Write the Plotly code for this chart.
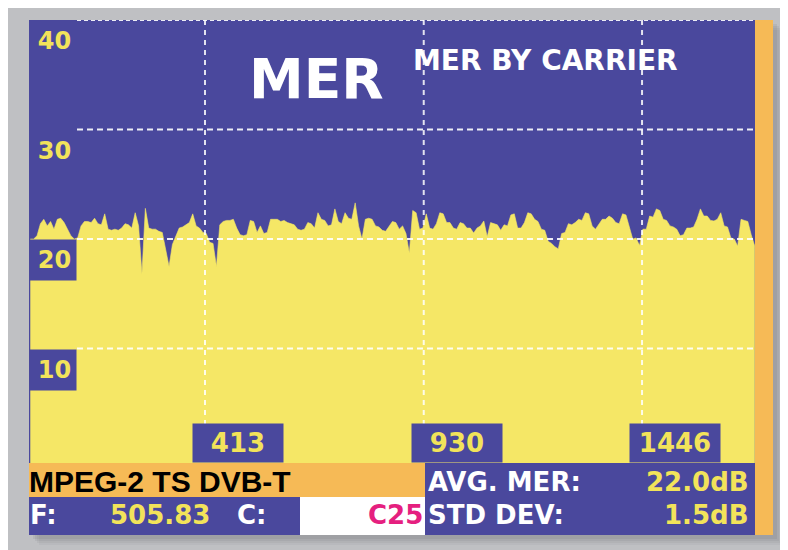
import plotly.graph_objects as go

# ---------------- data ----------------
carriers = list(range(0, 1713, 8))
mer_db = [
    20.0, 20.0, 20.3, 21.4, 21.8, 21.2, 21.6, 20.9, 21.8, 21.9,
    21.5, 20.9, 20.3, 20.0, 20.1, 21.2, 21.6, 21.6, 21.5, 21.9,
    21.4, 21.3, 22.3, 20.9, 20.8, 20.9, 20.8, 21.0, 21.4, 21.3,
    21.0, 22.4, 21.2, 16.8, 22.8, 21.0, 20.9, 20.9, 20.7, 20.6,
    19.0, 17.5, 19.5, 20.3, 21.0, 21.1, 21.3, 21.5, 22.3, 21.2,
    21.0, 20.6, 20.5, 19.7, 19.6, 17.5, 21.3, 21.6, 21.7, 21.7,
    21.8, 21.0, 20.4, 20.3, 20.4, 21.7, 21.6, 20.6, 21.2, 20.5,
    20.6, 21.8, 21.8, 21.8, 21.6, 21.7, 21.5, 21.4, 21.3, 20.9,
    20.8, 20.9, 21.5, 21.4, 21.0, 22.4, 21.8, 21.7, 21.2, 21.3,
    22.75, 21.6, 21.4, 22.4, 21.9, 21.8, 23.3, 21.2, 20.0, 21.8,
    21.9, 21.8, 21.2, 21.1, 20.8, 20.7, 21.2, 21.6, 21.5, 20.9,
    21.2, 20.5, 18.7, 22.6, 22.4, 20.9, 21.0, 22.3, 21.0, 20.9,
    21.4, 22.4, 22.3, 21.5, 21.5, 21.0, 20.9, 21.5, 21.4, 21.0,
    21.0, 20.55, 21.0, 21.2, 21.65, 20.2, 21.5, 21.4, 21.3, 20.8,
    21.3, 21.2, 22.2, 22.3, 21.0, 21.0, 21.5, 22.4, 22.3, 21.8,
    21.6, 20.9, 20.8, 19.8, 19.6, 19.3, 19.1, 20.5, 20.6, 21.4,
    21.3, 21.5, 21.8, 21.7, 22.4, 22.3, 21.2, 20.9, 21.3, 21.8,
    21.8, 22.1, 21.9, 21.5, 21.4, 22.3, 22.2, 21.2, 20.0, 20.1,
    19.4, 20.9, 20.9, 22.1, 22.0, 22.75, 22.6, 21.8, 21.7, 21.2,
    21.1, 20.9, 20.3, 20.4, 21.0, 21.0, 21.1, 21.8, 22.75, 22.1,
    22.1, 21.7, 21.65, 21.8, 22.4, 21.2, 21.1, 20.1, 20.0, 19.35,
    21.8, 21.7, 21.6, 20.4, 19.4,
]
y_ticks = [10, 20, 30, 40]
x_ticks = [413, 930, 1446]
x_tick_labels = ["413", "930", "1446"]

title_main = "MER"
title_sub = "MER BY CARRIER"
stream_label = "MPEG-2 TS DVB-T"
freq_label, freq_value = "F:", "505.83"
chan_label, chan_value = "C:", "C25"
avg_label, avg_value = "AVG. MER:", "22.0dB"
std_label, std_value = "STD DEV:", "1.5dB"

# ---------------- style ----------------
BLUE = "#4a489d"
YELLOW = "#f5e766"
TXT_YELLOW = "#f2e35a"
ORANGE = "#f6ba56"
GRAY = "#bfc0c3"
MAGENTA = "#e5207f"
FONT = "DejaVu Sans"

PAGE_W, PAGE_H = 788, 550
OFF = 8  # page body margin in the browser
W, H = PAGE_W - OFF, PAGE_H - OFF
L, R, T, B = 29, 755, 20, 463  # plot area in page pixels


def px(x):
    return (x - L) / (R - L)


def py(y):
    return (B - y) / (B - T)


fig = go.Figure()

# yellow filled MER trace (closed to below the axis bottom)
fig.add_trace(go.Scatter(
    x=carriers + [carriers[-1], carriers[0]],
    y=mer_db + [-5, -5],
    fill="toself", fillcolor=YELLOW, mode="lines",
    line=dict(width=0.6, color=YELLOW), hoverinfo="skip", showlegend=False,
))

shapes = []


def rect(x0, y0, x1, y1, color, layer="below"):
    shapes.append(dict(type="rect", xref="paper", yref="paper",
                       x0=px(x0), x1=px(x1), y0=py(y1), y1=py(y0),
                       fillcolor=color, line=dict(width=0), layer=layer))


# background panel
rect(5, 5, 800, 560, GRAY)
# soft shadow
for k, a in [(10, 0.05), (8, 0.06), (6, 0.07), (4, 0.08)]:
    rect(L + k, T + k, 773 + k, 535 + k, f"rgba(60,60,70,{a})")
# screen
rect(L, T, R, 535, BLUE)
rect(R, T, 773, 535, ORANGE)
rect(L, 463, 425, 497, ORANGE)
rect(300, 497, 425, 535, "white")

# grid lines above trace
for t in y_ticks:
    shapes.append(dict(type="line", xref="paper", yref="y",
                       x0=px(77), x1=1, y0=t, y1=t, layer="above",
                       line=dict(color="rgba(255,255,255,0.9)", width=2,
                                 dash="6px,4px" if t != 40 else "4px,3px")))
for xt in x_ticks:
    shapes.append(dict(type="line", xref="x", yref="paper",
                       x0=xt, x1=xt, y0=py(425), y1=1, layer="above",
                       line=dict(color="rgba(255,255,255,0.85)", width=2,
                                 dash="5px,5px")))

ann = []
# y tick label boxes
for t in y_ticks:
    ann.append(dict(xref="paper", yref="y", x=0, y=t, xanchor="left",
                    yanchor="top", text=f"{t}\u2009", showarrow=False,
                    width=46, height=40, borderpad=0, bgcolor=BLUE,
                    align="right", valign="middle",
                    font=dict(family=FONT, size=24, color=TXT_YELLOW,
                              weight="bold")))
# x tick label boxes
for xt, lab in zip(x_ticks, x_tick_labels):
    ann.append(dict(xref="x", yref="paper", x=xt, y=0, xanchor="left",
                    yanchor="bottom", xshift=-13, text=lab, showarrow=False,
                    width=90, height=38, borderpad=0, bgcolor=BLUE,
                    align="center", valign="middle",
                    font=dict(family=FONT, size=26, color=TXT_YELLOW,
                              weight="bold")))


def text(s, x, y, anchor, size, color, family=FONT):
    ann.append(dict(xref="paper", yref="paper", x=px(x), y=py(y),
                    xanchor=anchor, yanchor="middle", text=s,
                    showarrow=False, borderpad=0,
                    font=dict(family=family, size=size, color=color,
                              weight="bold")))


text(title_main, 316, 79, "center", 55, "white")
text(title_sub, 545, 61, "center", 28, "white")
text(stream_label, 28, 481, "left", 30, "black", "Liberation Sans")
text(freq_label, 29, 515, "left", 26, "white")
text(freq_value, 109, 515, "left", 26, TXT_YELLOW)
text(chan_label, 236, 515, "left", 26, "white")
text(chan_value, 424, 515, "right", 26, MAGENTA)
text(avg_label, 427, 482, "left", 26, "white")
text(avg_value, 750, 482, "right", 26, TXT_YELLOW)
text(std_label, 427, 515, "left", 26, "white")
text(std_value, 750, 515, "right", 26, TXT_YELLOW)

fig.update_layout(
    width=W, height=H,
    margin=dict(l=L - OFF, r=PAGE_W - R, t=T - OFF, b=PAGE_H - B, pad=0),
    paper_bgcolor="white", plot_bgcolor="rgba(0,0,0,0)",
    shapes=shapes, annotations=ann, showlegend=False,
    xaxis=dict(range=[-3, 1713], showgrid=False, zeroline=False,
               showticklabels=False, ticks="", fixedrange=True),
    yaxis=dict(range=[-0.45, 40], showgrid=False, zeroline=False,
               showticklabels=False, ticks="", fixedrange=True),
)

fig.write_html("out.html")
